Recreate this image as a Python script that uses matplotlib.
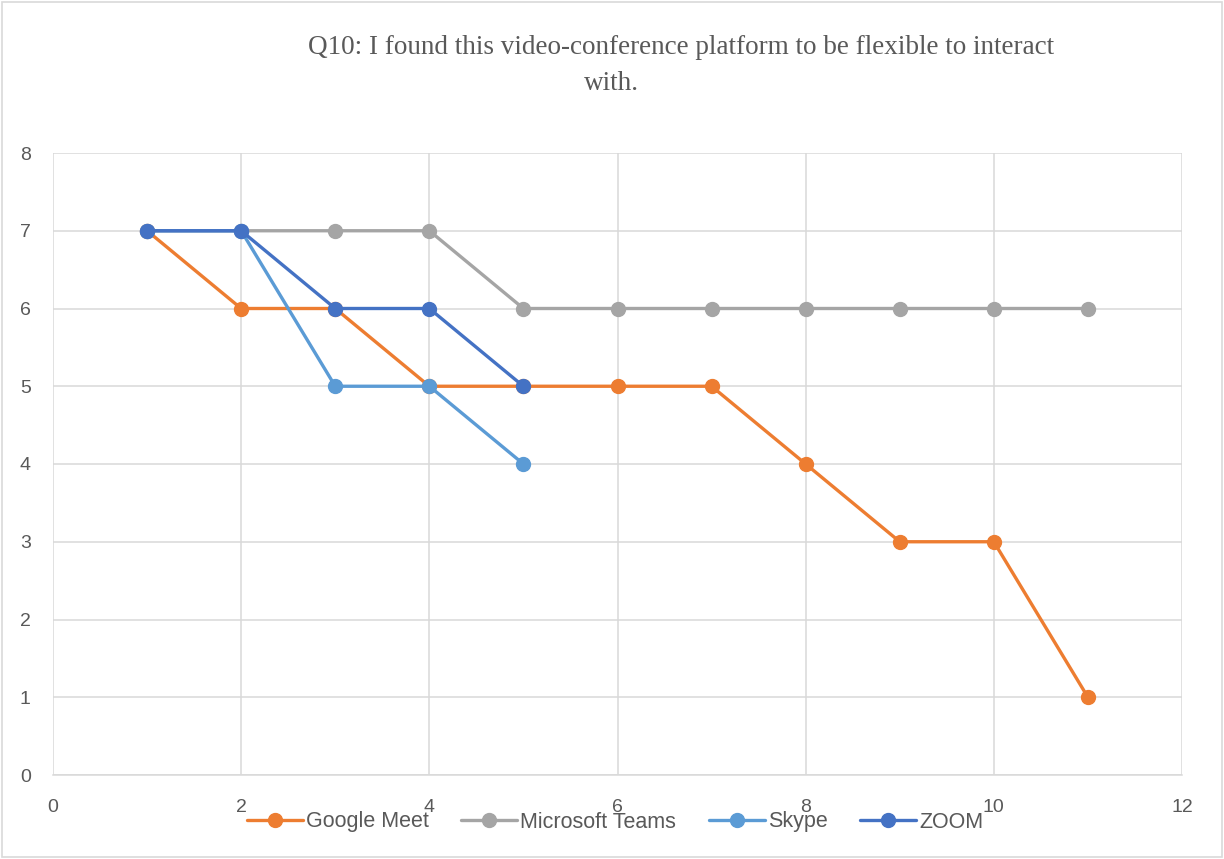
import matplotlib
matplotlib.use("Agg")
import matplotlib.pyplot as plt
from matplotlib.patches import Rectangle

# data
google_x = [1, 2, 3, 4, 5, 6, 7, 8, 9, 10, 11]
google_y = [7, 6, 6, 5, 5, 5, 5, 4, 3, 3, 1]
teams_x = [1, 2, 3, 4, 5, 6, 7, 8, 9, 10, 11]
teams_y = [7, 7, 7, 7, 6, 6, 6, 6, 6, 6, 6]
skype_x = [1, 2, 3, 4, 5]
skype_y = [7, 7, 5, 5, 4]
zoom_x = [1, 2, 3, 4, 5]
zoom_y = [7, 7, 6, 6, 5]

series = [
    ("Google Meet", google_x, google_y, "#ED7D31"),
    ("Microsoft Teams", teams_x, teams_y, "#A5A5A5"),
    ("Skype", skype_x, skype_y, "#5B9BD5"),
    ("ZOOM", zoom_x, zoom_y, "#4472C4"),
]

plt.rcParams['font.family'] = ['Liberation Sans', 'DejaVu Sans']

fig = plt.figure(figsize=(12.24, 8.59), dpi=100)
ax = fig.add_axes([53 / 1224, 1 - 775 / 859, 1129 / 1224, 622 / 859])

for name, xs, ys, c in series:
    ax.plot(xs, ys, color=c, lw=2.4, marker='o', ms=10, label=name,
            solid_capstyle='round', zorder=3)

ax.set_xlim(0, 12)
ax.set_ylim(0, 8)
ax.set_xticks(range(0, 13, 2))
ax.set_yticks(range(0, 9))
ax.grid(True, color='#D9D9D9', lw=1.1)
ax.set_axisbelow(True)
for s in ['top', 'right', 'left']:
    ax.spines[s].set_visible(False)
ax.spines['bottom'].set_color('#D9D9D9')
ax.spines['bottom'].set_linewidth(1.1)
ax.tick_params(length=0, labelsize=14, colors='#595959')
ax.tick_params(axis='x', pad=17)
ax.tick_params(axis='y', pad=16)

title_font = dict(ha='center', va='center', fontsize=19.5, color='#595959',
                  family=['Liberation Serif', 'DejaVu Serif'])
fig.text(681 / 1224, 1 - 47 / 859,
         "Q10: I found this video-conference platform to be flexible to interact",
         **title_font)
fig.text(611 / 1224, 1 - 84 / 859, "with.", **title_font)

leg = fig.legend(loc='center', bbox_to_anchor=(615 / 1224, 1 - 822 / 859),
                 ncol=4, frameon=False, fontsize=15.5, handlelength=2.6,
                 handletextpad=0.15, columnspacing=1.5)
for t in leg.get_texts():
    t.set_color('#595959')

fig.patches.append(Rectangle((0.002, 0.002), 0.996, 0.996, transform=fig.transFigure,
                             fill=False, edgecolor='#D9D9D9', lw=1.2))

fig.savefig("out.png", dpi=100)
